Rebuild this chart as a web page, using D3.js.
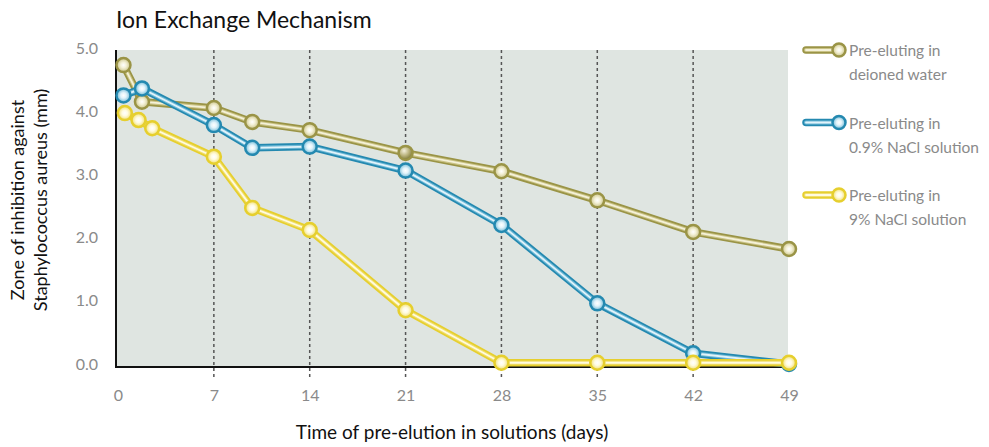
<!DOCTYPE html>
<html>
<head>
<meta charset="utf-8">
<script src="https://cdn.jsdelivr.net/npm/d3@7"></script>
<style>
  body { margin: 0; background: #fff; }
  svg text { font-family: Lato, "Open Sans", sans-serif; }
</style>
</head>
<body>
<div id="chart"></div>
<script>
// Values
const xTicks = [0, 7, 14, 21, 28, 35, 42, 49];
const yTicks = [0, 1, 2, 3, 4, 5];

const waterDays = [0.4, 1.75, 7, 9.8, 14, 21, 28, 35, 42, 49];
const waterVals = [4.73, 4.15, 4.05, 3.83, 3.70, 3.34, 3.05, 2.59, 2.09, 1.82];

const saline09Days = [0.4, 1.75, 7, 9.8, 14, 21, 28, 35, 42, 49];
const saline09Vals = [4.25, 4.36, 3.78, 3.42, 3.44, 3.06, 2.20, 0.96, 0.17, 0.0];

const saline9Days = [0.5, 1.5, 2.5, 7, 9.8, 14, 21, 28, 35, 42, 49];
const saline9Vals = [3.97, 3.86, 3.73, 3.28, 2.47, 2.12, 0.85, 0.02, 0.02, 0.02, 0.02];

const seriesNames = [
    ['Pre-eluting in', 'deioned water'],
    ['Pre-eluting in', '0.9% NaCl solution'],
    ['Pre-eluting in', '9% NaCl solution']
];

// colours: outer stroke, light core, marker rim
const palette = [
    { id: 'water', dark: '#9a9446', light: '#f4f1d8', mid: '#c9c285' },
    { id: 'nacl09', dark: '#2489b0', light: '#e2f3fa', mid: '#6fb9d6' },
    { id: 'nacl9', dark: '#e6cf2e', light: '#fffbe0', mid: '#f0de6e' }
];

const series = [
    { days: waterDays, vals: waterVals },
    { days: saline09Days, vals: saline09Vals },
    { days: saline9Days, vals: saline9Vals }
].map((s, i) => ({
    name: seriesNames[i],
    color: palette[i],
    points: s.days.map((d, j) => ({ day: d, val: s.vals[j] }))
}));

const width = 989, height = 447;
const plot = { left: 116, right: 788, top: 50, bottom: 367 };

const x = d3.scaleLinear().domain([0, 49]).range([118, 789]);
const y = d3.scaleLinear().domain([0, 5]).range([364, 48]);

const svg = d3.select('#chart').append('svg')
    .attr('width', width)
    .attr('height', height);

const defs = svg.append('defs');
palette.forEach(c => {
    const g = defs.append('radialGradient').attr('id', 'grad-' + c.id);
    g.append('stop').attr('offset', '0%').attr('stop-color', '#ffffff');
    g.append('stop').attr('offset', '40%').attr('stop-color', c.light);
    g.append('stop').attr('offset', '100%').attr('stop-color', c.mid);
});
// shaded ball marker (one olive point looks like this)
const ball = defs.append('radialGradient').attr('id', 'grad-ball')
    .attr('cx', '40%').attr('cy', '35%').attr('r', '65%');
ball.append('stop').attr('offset', '0%').attr('stop-color', '#f4f0dc');
ball.append('stop').attr('offset', '55%').attr('stop-color', '#b8b17a');
ball.append('stop').attr('offset', '100%').attr('stop-color', '#7d7838');

// Title
svg.append('text')
    .attr('x', 116)
    .attr('y', 28)
    .attr('font-size', 23)
    .attr('fill', '#111')
    .text('Ion Exchange Mechanism');

// Plot background
svg.append('rect')
    .attr('x', plot.left)
    .attr('y', plot.top)
    .attr('width', plot.right - plot.left)
    .attr('height', plot.bottom - plot.top)
    .attr('fill', '#dfe5e1');

// Dashed verticals
svg.selectAll('.vline')
    .data(xTicks.slice(1, -1))
    .enter().append('line')
    .attr('class', 'vline')
    .attr('x1', d => x(d)).attr('x2', d => x(d))
    .attr('y1', plot.top).attr('y2', 378)
    .attr('stroke', '#555')
    .attr('stroke-width', 1.5)
    .attr('stroke-dasharray', '3,3');

// Axes lines
svg.append('path')
    .attr('d', `M${plot.left},${plot.top}V${plot.bottom}H${plot.right}`)
    .attr('fill', 'none')
    .attr('stroke', '#111')
    .attr('stroke-width', 2);

// X axis labels
const xAxis = svg.append('g')
    .attr('transform', `translate(0,${plot.bottom})`)
    .call(d3.axisBottom(x).tickValues(xTicks).tickSize(0).tickPadding(23));
xAxis.select('.domain').remove();
xAxis.selectAll('text')
    .attr('font-size', 16)
    .attr('fill', '#8a8a8a')
    .style('font-family', 'Lato, sans-serif');

// Y axis labels
const yAxis = svg.append('g')
    .attr('transform', `translate(98,0)`)
    .call(d3.axisLeft(y).tickValues(yTicks).tickFormat(d3.format('.1f')).tickSize(0).tickPadding(0));
yAxis.select('.domain').remove();
yAxis.selectAll('text')
    .attr('font-size', 16)
    .attr('fill', '#8a8a8a')
    .style('font-family', 'Lato, sans-serif');

// Axis titles
svg.append('text')
    .attr('x', 452)
    .attr('y', 439)
    .attr('text-anchor', 'middle')
    .attr('font-size', 19)
    .attr('fill', '#111')
    .text('Time of pre-elution in solutions (days)');

const yTitle = svg.append('text')
    .attr('transform', 'translate(24,200) rotate(-90)')
    .attr('text-anchor', 'middle')
    .attr('font-size', 18)
    .attr('fill', '#111');
yTitle.append('tspan').attr('x', 0).attr('dy', 0).text('Zone of inhibition against');
yTitle.append('tspan').attr('x', 0).attr('dy', 23).text('Staphylococcus aureus (mm)');

// Lines and markers
const line = d3.line().x(d => x(d.day)).y(d => y(d.val));

series.forEach(s => {
    const g = svg.append('g');
    g.append('path')
        .attr('d', line(s.points))
        .attr('fill', 'none')
        .attr('stroke', s.color.dark)
        .attr('stroke-width', 7.5)
        .attr('stroke-linejoin', 'round');
    g.append('path')
        .attr('d', line(s.points))
        .attr('fill', 'none')
        .attr('stroke', s.color.mid)
        .attr('stroke-width', 4)
        .attr('stroke-linejoin', 'round');
    g.append('path')
        .attr('d', line(s.points))
        .attr('fill', 'none')
        .attr('stroke', s.color.light)
        .attr('stroke-width', 1.8)
        .attr('stroke-linejoin', 'round');

    g.selectAll('circle')
        .data(s.points)
        .enter().append('circle')
        .attr('cx', d => x(d.day))
        .attr('cy', d => y(d.val))
        .attr('r', 7)
        .attr('fill', d => (s.color.id === 'water' && d.day === 21) ? 'url(#grad-ball)' : `url(#grad-${s.color.id})`)
        .attr('stroke', s.color.dark)
        .attr('stroke-width', 2.5);
});

// Legend
const legend = svg.append('g');
series.forEach((s, i) => {
    const ly = 50 + i * 72.5;
    const item = legend.append('g').attr('transform', `translate(0,${ly})`);
    item.append('line')
        .attr('x1', 806).attr('x2', 838).attr('y1', 0).attr('y2', 0)
        .attr('stroke', s.color.dark).attr('stroke-width', 7.5).attr('stroke-linecap', 'round');
    item.append('line')
        .attr('x1', 806).attr('x2', 838).attr('y1', 0).attr('y2', 0)
        .attr('stroke', s.color.mid).attr('stroke-width', 4).attr('stroke-linecap', 'round');
    item.append('line')
        .attr('x1', 806).attr('x2', 838).attr('y1', 0).attr('y2', 0)
        .attr('stroke', s.color.light).attr('stroke-width', 1.8).attr('stroke-linecap', 'round');
    item.append('circle')
        .attr('cx', 839).attr('cy', 0).attr('r', 6.5)
        .attr('fill', `url(#grad-${s.color.id})`)
        .attr('stroke', s.color.dark).attr('stroke-width', 2.5);
    const t = item.append('text')
        .attr('x', 849).attr('y', 6)
        .attr('font-size', 15.5)
        .attr('fill', '#8a8a8a');
    t.append('tspan').attr('x', 849).attr('dy', 0).text(s.name[0]);
    t.append('tspan').attr('x', 849).attr('dy', 24).text(s.name[1]);
});
</script>
</body>
</html>
